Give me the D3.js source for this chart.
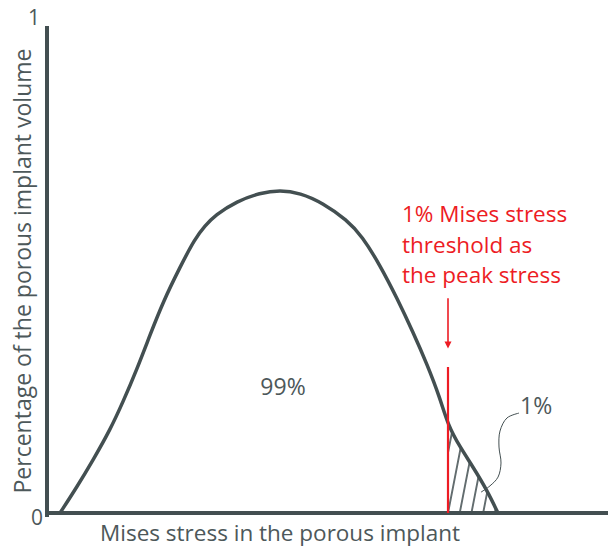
<!DOCTYPE html>
<html>
<head>
<meta charset="utf-8">
<script src="https://cdn.jsdelivr.net/npm/d3@7"></script>
<style>
  body { margin: 0; background: #fff; }
  svg { display: block; font-family: "Open Sans", sans-serif; }
  .axis path { stroke: #434f51; stroke-width: 4px; stroke-linecap: square; }
  .axis text { font-family: "Open Sans", sans-serif; font-size: 21px; fill: #4d585a; }
</style>
</head>
<body>
<svg width="608" height="549"></svg>
<script>
// stress distribution curve (stress in arbitrary units, volume fraction 0..1)
var stress = [2.6, 6, 9.2, 12.6, 15.2, 18, 20.6, 23.2, 26.6, 29.6, 31.6, 33.6, 38, 42.6, 46.6, 50.6, 55.2, 60, 63, 66.6, 70, 73.2, 76, 78.6, 80.2, 82.6, 85.2, 88, 90.2];
var volume = [0, 0.054, 0.109, 0.171, 0.229, 0.297, 0.367, 0.435, 0.507, 0.566, 0.592, 0.614, 0.643, 0.66, 0.666, 0.66, 0.639, 0.604, 0.571, 0.511, 0.443, 0.373, 0.307, 0.237, 0.181, 0.136, 0.095, 0.047, 0];
var yTicks = [0, 1];
var threshold = 80.2;          // 1% Mises stress threshold
var shareBelow = "99%", shareAbove = "1%";
var leaderX = [94.4, 92, 90.6, 90.4, 90.8, 90.2, 88.6, 86.8];
var leaderY = [0.206, 0.196, 0.169, 0.136, 0.103, 0.074, 0.056, 0.043];
var noteLines = ["1% Mises stress", "threshold as", "the peak stress"];

var svg = d3.select("svg"),
    dark = "#434f51",
    red = "#ed1c24",
    textGrey = "#4d585a";

var x = d3.scaleLinear().domain([0, 112]).range([47, 607]),
    y = d3.scaleLinear().domain([0, 1]).range([513, 28]);

var data = stress.map(function(s, i) { return {s: s, v: volume[i]}; });

var line = d3.line()
    .curve(d3.curveBasis)
    .x(function(d) { return x(d.s); })
    .y(function(d) { return y(d.v); });

var area = d3.area()
    .curve(d3.curveBasis)
    .x(function(d) { return x(d.s); })
    .y0(y(0))
    .y1(function(d) { return y(d.v); });

var defs = svg.append("defs");

// hatch pattern for the 1% tail
var pat = defs.append("pattern")
    .attr("id", "hatch")
    .attr("patternUnits", "userSpaceOnUse")
    .attr("x", -5.75).attr("y", 0)
    .attr("width", 11.5).attr("height", 20)
    .attr("patternTransform", "translate(" + x(threshold) + "," + y(0) + ") rotate(11)");
pat.append("line")
    .attr("x1", 5.75).attr("x2", 5.75)
    .attr("y1", -1).attr("y2", 21)
    .attr("stroke", dark)
    .attr("stroke-width", 1.6);

defs.append("clipPath")
    .attr("id", "tail")
  .append("rect")
    .attr("x", x(threshold))
    .attr("y", y(1))
    .attr("width", x(112) - x(threshold))
    .attr("height", y(0) - y(1));

svg.append("path")
    .datum(data)
    .attr("d", area)
    .attr("clip-path", "url(#tail)")
    .attr("fill", "url(#hatch)");

// axes
svg.append("g")
    .attr("class", "axis")
    .attr("transform", "translate(0," + y(0) + ")")
    .call(d3.axisBottom(x).tickValues([]).tickSizeOuter(0))
  .select(".domain")
    .attr("d", "M" + x(0) + ",0H608");

var yAxis = svg.append("g")
    .attr("class", "axis")
    .attr("transform", "translate(" + x(0) + ",0)")
    .call(d3.axisLeft(y).tickValues(yTicks).tickFormat(d3.format("d"))
      .tickSize(0).tickSizeOuter(0).tickPadding(6));
yAxis.select(".domain").attr("d", "M0," + (y(0) + 2) + "V" + y(1));
yAxis.selectAll(".tick text")
    .attr("dy", function(d) { return d === 1 ? "-0.15em" : "0.55em"; })
    .attr("x", function(d) { return d === 1 ? -7 : -4; });

// curve
svg.append("path")
    .datum(data)
    .attr("d", line)
    .attr("fill", "none")
    .attr("stroke", dark)
    .attr("stroke-width", 3.5);

// threshold marker
svg.append("line")
    .attr("x1", x(threshold)).attr("x2", x(threshold))
    .attr("y1", y(0)).attr("y2", y(0.301))
    .attr("stroke", red)
    .attr("stroke-width", 2.2);

svg.append("line")
    .attr("x1", x(threshold)).attr("x2", x(threshold))
    .attr("y1", y(0.443)).attr("y2", y(0.345))
    .attr("stroke", red)
    .attr("stroke-width", 1.6);
svg.append("path")
    .attr("d", "M" + (x(threshold) - 3.5) + "," + (y(0.339) - 7) + "L" + x(threshold) + "," + y(0.339) + "L" + (x(threshold) + 3.5) + "," + (y(0.339) - 7) + "Z")
    .attr("fill", red);

svg.append("text")
    .attr("x", x(71))
    .attr("y", y(0.6))
    .attr("fill", red)
    .style("font-size", "22.5px")
  .selectAll("tspan")
    .data(noteLines)
  .enter().append("tspan")
    .attr("x", x(71))
    .attr("dy", function(d, i) { return i === 0 ? 0 : 30.5; })
    .text(function(d) { return d; });

// share labels
svg.append("text")
    .attr("x", x(47.2)).attr("y", y(0.243))
    .attr("text-anchor", "middle")
    .attr("fill", textGrey)
    .style("font-size", "23px")
    .text(shareBelow);

svg.append("text")
    .attr("x", x(94.6)).attr("y", y(0.204))
    .attr("fill", textGrey)
    .style("font-size", "23px")
    .text(shareAbove);

svg.append("path")
    .datum(leaderX.map(function(s, i) { return {s: s, v: leaderY[i]}; }))
    .attr("d", d3.line().curve(d3.curveCatmullRom)
        .x(function(d) { return x(d.s); })
        .y(function(d) { return y(d.v); }))
    .attr("fill", "none")
    .attr("stroke", dark)
    .attr("stroke-width", 1);

// axis titles
svg.append("text")
    .attr("x", 100).attr("y", 541)
    .attr("fill", textGrey)
    .style("font-size", "22.5px")
    .text("Mises stress in the porous implant");

svg.append("text")
    .attr("text-anchor", "middle")
    .attr("transform", "translate(31,271)rotate(-90)")
    .attr("fill", textGrey)
    .style("font-size", "23px")
    .text("Percentage of the porous implant volume");
</script>
</body>
</html>
